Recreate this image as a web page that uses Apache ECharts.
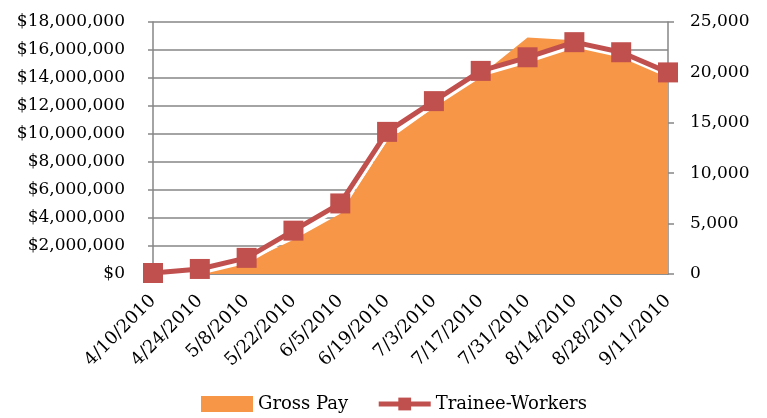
<!DOCTYPE html>
<html>
<head>
<meta charset="utf-8">
<script src="https://cdn.jsdelivr.net/npm/echarts@6/dist/echarts.min.js"></script>
<style>
  html, body { margin: 0; padding: 0; background: #fff; }
  #chart { width: 767px; height: 418px; }
</style>
</head>
<body>
<div id="chart"></div>
<script>
var dates = ['4/10/2010', '4/24/2010', '5/8/2010', '5/22/2010', '6/5/2010', '6/19/2010',
  '7/3/2010', '7/17/2010', '7/31/2010', '8/14/2010', '8/28/2010', '9/11/2010'];
var grossPay = [0, 50000, 850000, 2450000, 4300000, 9500000,
  11900000, 14200000, 16900000, 16700000, 15600000, 14300000];
var workers = [100, 500, 1600, 4300, 7000, 14100, 17150, 20150, 21500, 23000, 22000, 20000];

var font = 'DejaVu Serif';
var chart = echarts.init(document.getElementById('chart'));

var option = {
  animation: false,
  textStyle: { fontFamily: font },
  grid: { left: 153, right: 99, top: 22, bottom: 144 },
  legend: {
    bottom: 0,
    left: 196,
    itemGap: 28,
    itemWidth: 52,
    itemHeight: 16,
    textStyle: { fontFamily: font, fontSize: 18, color: '#000' },
    data: [
      { name: 'Gross Pay', icon: 'rect' },
      { name: 'Trainee-Workers', lineStyle: { width: 5 } }
    ]
  },
  xAxis: {
    type: 'category',
    data: dates,
    boundaryGap: false,
    axisLine: { lineStyle: { color: '#868686', width: 1.5 } },
    axisTick: { show: false },
    axisLabel: {
      rotate: 45,
      interval: 0,
      margin: 24,
      fontFamily: font,
      fontSize: 18,
      color: '#000'
    }
  },
  yAxis: [{
    type: 'value',
    min: 0,
    max: 18000000,
    interval: 2000000,
    axisLine: { show: true, lineStyle: { color: '#868686', width: 1.5 } },
    axisTick: { show: true, length: 5, lineStyle: { color: '#868686', width: 1.5 } },
    splitLine: { lineStyle: { color: '#868686', width: 1.5 } },
    axisLabel: {
      margin: 28,
      fontFamily: font,
      fontSize: 17,
      color: '#000',
      formatter: function (v) { return '$' + v.toLocaleString('en-US'); }
    }
  }, {
    type: 'value',
    min: 0,
    max: 25000,
    interval: 5000,
    axisLine: { show: true, lineStyle: { color: '#868686', width: 1.5 } },
    axisTick: { show: true, length: 6, lineStyle: { color: '#868686', width: 1.5 } },
    splitLine: { show: false },
    axisLabel: {
      margin: 22,
      fontFamily: font,
      fontSize: 17,
      color: '#000',
      formatter: function (v) { return v.toLocaleString('en-US'); }
    }
  }],
  series: [{
    name: 'Gross Pay',
    type: 'line',
    data: grossPay,
    yAxisIndex: 0,
    symbol: 'none',
    color: '#F79646',
    lineStyle: { width: 0 },
    areaStyle: { color: '#F79646', opacity: 1 },
    z: 2
  }, {
    name: 'Trainee-Workers',
    type: 'line',
    data: workers,
    yAxisIndex: 1,
    symbol: 'rect',
    symbolSize: 20,
    color: '#C0504D',
    lineStyle: {
      color: '#C0504D',
      width: 5,
      shadowColor: '#ffffff',
      shadowOffsetY: 3,
      shadowOffsetX: 1,
      shadowBlur: 0
    },
    itemStyle: { color: '#C0504D' },
    z: 3
  }]
};

chart.setOption(option);
</script>
</body>
</html>
